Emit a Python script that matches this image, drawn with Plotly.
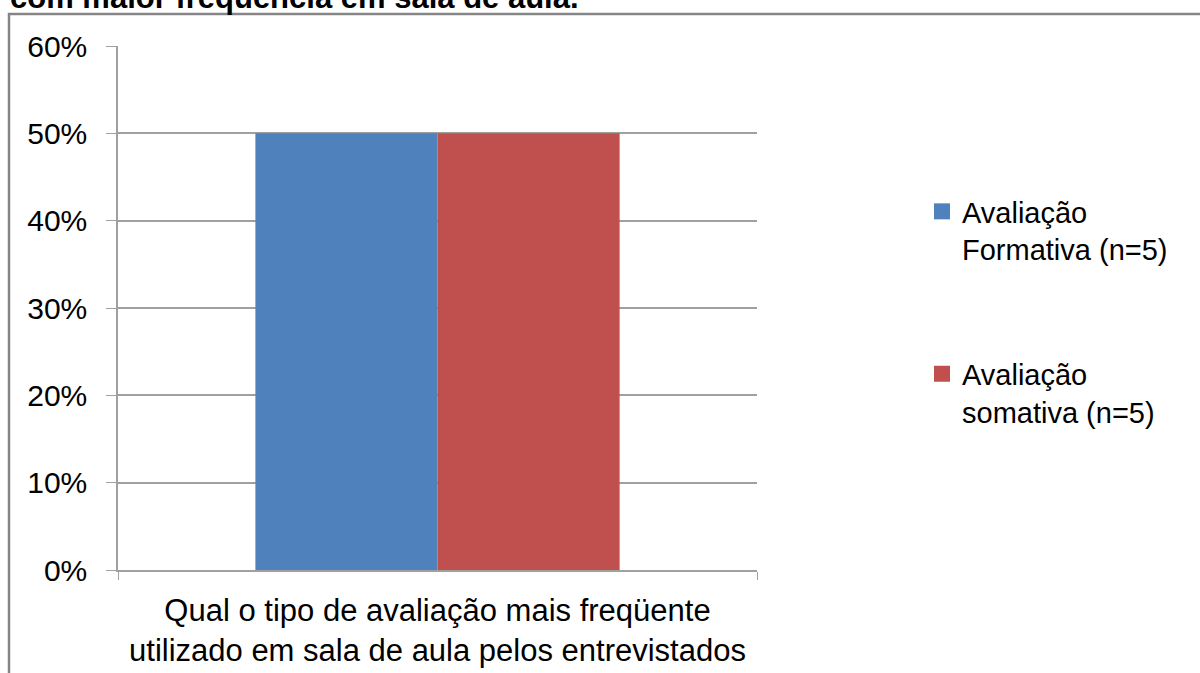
import plotly.graph_objects as go

categories = ["Qual o tipo de avaliação mais freqüente<br>utilizado em sala de aula pelos entrevistados"]
series_names = ["Avaliação<br>Formativa (n=5)", "Avaliação<br>somativa (n=5)"]
series_values = [[0.50], [0.50]]
series_colors = ["#4F81BD", "#C0504D"]
y_ticks = [0, 0.1, 0.2, 0.3, 0.4, 0.5, 0.6]
title_text = "com maior freqüência em sala de aula."

W, H = 1200, 673
L, R, T, B = 118, 757, 46, 570
FONT = "Liberation Sans, Arial, sans-serif"

fig = go.Figure()
for i, (name, vals, col) in enumerate(zip(series_names, series_values, series_colors)):
    fig.add_trace(go.Bar(
        x=categories, y=vals, name=name, marker_color=col,
        marker_line_width=0, showlegend=False,
    ))
    # legend proxy with a larger square swatch
    fig.add_trace(go.Scatter(
        x=[None], y=[None], mode="markers", name=name, legendgroup=f"g{i}",
        marker=dict(symbol="square", size=18, color=col),
    ))

def px_to_paper_x(px):
    return (px - L) / (R - L)

def px_to_paper_y(py):
    return (B - py) / (B - T)

fig.update_layout(
    width=W, height=H,
    margin=dict(l=L, r=W - R, t=T, b=H - B, pad=0, autoexpand=False),
    paper_bgcolor="white", plot_bgcolor="white",
    barmode="group", bargap=0.43, bargroupgap=0,
    font=dict(family=FONT, size=29, color="black"),
    showlegend=True,
    legend=dict(
        x=px_to_paper_x(922), y=px_to_paper_y(186),
        xanchor="left", yanchor="top",
        font=dict(family=FONT, size=29, color="black"),
        tracegroupgap=84, valign="top", bgcolor="rgba(0,0,0,0)",
    ),
    xaxis=dict(
        type="category", showgrid=False, showline=True, linecolor="#A0A0A0",
        linewidth=1.5, ticks="outside", tickson="boundaries", ticklen=8,
        tickcolor="#A0A0A0", tickfont=dict(family=FONT, size=31, color="black"),
        ticklabelstandoff=12, automargin=False,
        range=[-0.5, 0.5], fixedrange=True,
    ),
    yaxis=dict(
        range=[0, 0.6], tickvals=y_ticks, tickformat=".0%",
        showgrid=True, gridcolor="#A0A0A0", gridwidth=1.5,
        showline=True, linecolor="#A0A0A0", linewidth=1.5,
        ticks="outside", ticklen=10, tickcolor="#A0A0A0",
        tickfont=dict(family=FONT, size=30, color="black"),
        ticklabelstandoff=13, automargin=False,
        zeroline=False, fixedrange=True,
    ),
    shapes=[dict(
        type="rect", xref="paper", yref="paper",
        x0=px_to_paper_x(9), x1=px_to_paper_x(1215),
        y0=px_to_paper_y(690), y1=px_to_paper_y(14),
        line=dict(color="#868686", width=2.5), fillcolor="rgba(0,0,0,0)", layer="below",
    )],
    annotations=[dict(
        text="<b>" + title_text + "</b>", xref="paper", yref="paper",
        x=px_to_paper_x(8), y=px_to_paper_y(17), xanchor="left", yanchor="bottom",
        showarrow=False, font=dict(family=FONT, size=31, color="black"),
    )],
)

fig.write_html("out.html")
